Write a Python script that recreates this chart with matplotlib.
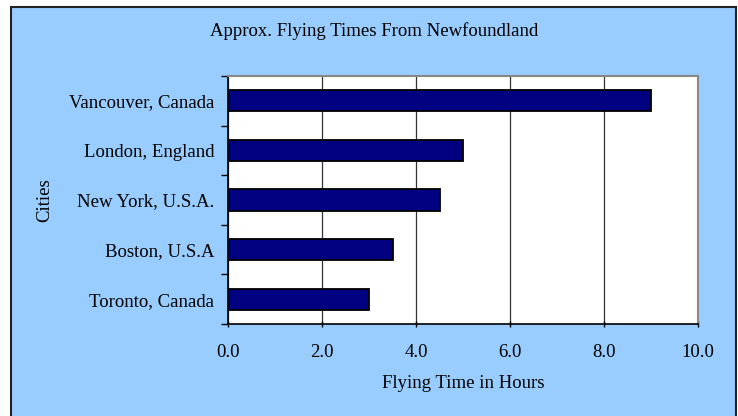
import matplotlib
matplotlib.use("Agg")
import matplotlib.pyplot as plt
from matplotlib.patches import Rectangle

# data
cities = ["Toronto, Canada", "Boston, U.S.A", "New York, U.S.A.", "London, England", "Vancouver, Canada"]
hours = [3.0, 3.5, 4.5, 5.0, 9.0]
x_ticks = [0.0, 2.0, 4.0, 6.0, 8.0, 10.0]

plt.rcParams['font.family'] = ['Liberation Serif', 'DejaVu Serif']
FS = 13.5

W, H = 738, 416
fig = plt.figure(figsize=(W / 100, H / 100), dpi=100)
fig.patch.set_facecolor("white")

# blue chart area, runs off the bottom of the picture
fig.patches.append(Rectangle((10.5 / W, -10 / H), 725.5 / W, (H - 6.5 + 10) / H,
                             transform=fig.transFigure, facecolor="#99CCFF",
                             edgecolor="#222222", linewidth=1.5, zorder=-5))

ax = fig.add_axes([228 / W, 1 - 324 / H, 470 / W, 248 / H])
ax.set_facecolor("white")

y = range(len(cities))
ax.barh(y, hours, height=0.43, color="#000080", edgecolor="black", linewidth=1.3, zorder=3)

ax.set_xlim(0, 10)
ax.set_ylim(-0.5, len(cities) - 0.5)
ax.set_xticks(x_ticks)
ax.set_xticklabels([f"{v:.1f}" for v in x_ticks], fontsize=FS)
ax.set_yticks(list(y))
ax.set_yticklabels(cities, fontsize=FS)
ax.set_yticks([i - 0.5 for i in range(len(cities) + 1)], minor=True)

ax.tick_params(axis="y", which="major", length=0, pad=10)
ax.tick_params(axis="y", which="minor", length=5, direction="out", width=1)
ax.tick_params(axis="x", length=5, direction="inout", width=1, pad=12)

ax.grid(axis="x", color="#333333", linewidth=0.9, zorder=1)
for side in ["top", "right"]:
    ax.spines[side].set_color("#888888")
    ax.spines[side].set_linewidth(1.5)
for side in ["left", "bottom"]:
    ax.spines[side].set_color("black")
    ax.spines[side].set_linewidth(1.2)

ax.set_xlabel("Flying Time in Hours", fontsize=FS)
ax.xaxis.set_label_coords(0.5, -(384 - 324) / 248, transform=ax.transAxes)
ax.xaxis.label.set_va("center")
ax.set_ylabel("Cities", fontsize=FS)
ax.yaxis.set_label_coords(-(228 - 45) / 470, 0.5, transform=ax.transAxes)
ax.yaxis.label.set_va("center")
fig.text(374 / W, 1 - 31 / H, "Approx. Flying Times From Newfoundland",
         ha="center", va="center", fontsize=FS)

fig.savefig("out.png", dpi=100)
